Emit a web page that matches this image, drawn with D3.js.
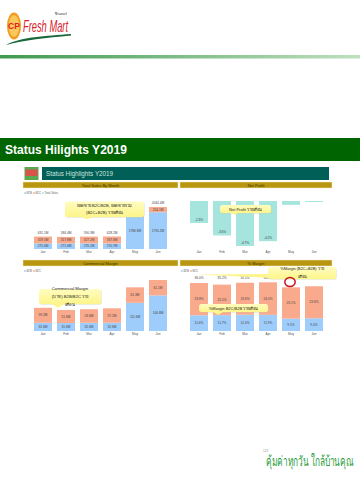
<!DOCTYPE html>
<html>
<head>
<meta charset="utf-8">
<style>
  html, body { margin: 0; padding: 0; background: #fff; }
  svg { display: block; }
  text { font-family: "Liberation Sans", "Noto Sans", "DejaVu Sans", sans-serif; }
</style>
<script src="https://cdn.jsdelivr.net/npm/d3@7"></script>
</head>
<body>
<div id="chart"></div>
<script>
// Values
const months = ["Jan", "Feb", "Mar", "Apr", "May", "Jun"];

const salesB2B = [275.6, 271.6, 276.1, 270.7, 1786.8, 1790.2];
const salesB2C = [329.5, 317.8, 327.2, 337.6, 250.1, 254.1];
const salesTotal = ["631.1M", "584.4M", "590.3M", "628.2M", "", "2044.4M"];

const netProfit = [-2.3, -3.6, -4.7, -4.2, -0.4, -0.1];
const netProfitLabels = ["-2.3%", "-3.6%", "-4.7%", "-4.2%", "", ""];

const marginB2B = [32.6, 31.6, 32.6, 32.6, 111.6, 140.8];
const marginB2C = [59.2, 51.6, 53.6, 57.2, 61.3, 61.1];

const pctB2B = [11.6, 11.7, 12.0, 11.9, 9.1, 9.4];
const pctB2C = [23.8, 22.5, 23.6, 24.0, 23.1, 23.6];
const pctTotal = ["36.0%", "35.2%", "35.5%", "36.4%", "32.5%", "11.8%"];

const blue = "#9fcdfb";
const orange = "#f9a98c";
const teal = "#a5e5dd";
const gold = "#b8960f";
const labelColor = "#444";

const svg = d3.select("#chart")
    .append("svg")
    .attr("width", 360)
    .attr("height", 480);

const defs = svg.append("defs");
const ruleGrad = defs.append("linearGradient").attr("id", "rule");
ruleGrad.append("stop").attr("offset", "0").attr("stop-color", "#3f9a4f");
ruleGrad.append("stop").attr("offset", "1").attr("stop-color", "#bfe0bf");
const noteGrad = defs.append("linearGradient").attr("id", "note")
    .attr("x1", 0).attr("x2", 0).attr("y1", 0).attr("y2", 1);
noteGrad.append("stop").attr("offset", "0").attr("stop-color", "#fffcc0");
noteGrad.append("stop").attr("offset", "1").attr("stop-color", "#fdf58a");

// Page header: logo, rule and the green banner
const logo = svg.append("g");
logo.append("ellipse").attr("cx", 14).attr("cy", 26).attr("rx", 7).attr("ry", 13.5).attr("fill", "#f39a1f");
logo.append("ellipse").attr("cx", 14).attr("cy", 26).attr("rx", 5.3).attr("ry", 11).attr("fill", "#f8c95a");
logo.append("text").attr("x", 14).attr("y", 29).attr("text-anchor", "middle")
    .attr("font-size", 8.5).attr("font-weight", "bold").attr("fill", "#d8232a").text("CP");
logo.append("text").attr("x", 23).attr("y", 32).attr("font-size", 17).attr("font-style", "italic")
    .attr("textLength", 45).attr("lengthAdjust", "spacingAndGlyphs")
    .attr("fill", "#d8232a").text("Fresh Mart");
logo.append("text").attr("x", 55).attr("y", 14.5).attr("font-size", 3.6).attr("fill", "#444").text("ฟินเดอร์");
logo.append("path").attr("d", "M6,45 C20,37 46,36 71,34 L71,35.5 C46,38 24,40 6,45 Z").attr("fill", "#17683a");

svg.append("rect").attr("x", 0).attr("y", 55).attr("width", 360).attr("height", 3.5).attr("fill", "url(#rule)");
svg.append("rect").attr("x", 0).attr("y", 138).attr("width", 360).attr("height", 23).attr("fill", "#006400");
svg.append("text").attr("x", 5).attr("y", 153.5).attr("font-size", 12).attr("font-weight", "bold")
    .attr("fill", "#fff").text("Status Hilights Y2019");

// Slide title strip
svg.append("rect").attr("x", 24.5).attr("y", 167).attr("width", 14).attr("height", 13).attr("fill", "#5aa84f");
svg.append("rect").attr("x", 25.5).attr("y", 169.5).attr("width", 12).attr("height", 6.5).attr("fill", "#d9534a");
svg.append("rect").attr("x", 42).attr("y", 167).attr("width", 287).attr("height", 13).attr("fill", "#005f56");
svg.append("text").attr("x", 46).attr("y", 176).attr("font-size", 6.3).attr("fill", "#cfe3df").text("Status Highlights Y2019");

function sectionBar(x, y, w, label) {
  svg.append("rect").attr("x", x).attr("y", y).attr("width", w).attr("height", 6)
      .attr("fill", gold).attr("stroke", "#f6efc0").attr("stroke-width", 0.5);
  svg.append("text").attr("x", x + w / 2).attr("y", y + 4.6).attr("text-anchor", "middle")
      .attr("font-size", 4).attr("fill", "#3a3200").text(label);
}
sectionBar(23, 182, 155, "Total Sales By Month");
sectionBar(180, 182, 152, "Net Profit");
sectionBar(23, 260, 155, "Commercial Margin");
sectionBar(180, 260, 152, "% Margin");

function legend(x, y, items) {
  let cx = x;
  items.forEach(item => {
    svg.append("circle").attr("cx", cx).attr("cy", y).attr("r", 0.9).attr("fill", item.color);
    svg.append("text").attr("x", cx + 1.5).attr("y", y + 1).attr("font-size", 2.8).attr("fill", "#666").text(item.label);
    cx += item.gap;
  });
}
legend(25, 193, [
  { label: "B2B", color: blue, gap: 9 },
  { label: "B2C", color: orange, gap: 9 },
  { label: "Total Sales", color: teal, gap: 16 }
]);
legend(25, 271, [
  { label: "B2B", color: blue, gap: 9 },
  { label: "B2C", color: orange, gap: 9 }
]);
legend(182, 271, [
  { label: "B2B", color: blue, gap: 9 },
  { label: "B2C", color: orange, gap: 9 }
]);

function monthAxis(x, y) {
  const axis = svg.append("g")
      .attr("transform", `translate(0,${y})`)
      .call(d3.axisBottom(x).tickSize(0).tickPadding(0));
  axis.select(".domain").remove();
  axis.selectAll("text").attr("font-size", 3.2).attr("fill", "#555").attr("font-family", null);
}

// Stacked bars with a value label in each segment and an optional one on top
function stackedPanel(x, y, lower, upper, fmt, totals, totalY) {
  const rows = months.map((m, i) => ({ month: m, lower: lower[i], upper: upper[i] }));
  const series = d3.stack().keys(["lower", "upper"])(rows);
  const fills = [blue, orange];

  series.forEach((s, k) => {
    const g = svg.append("g");
    g.selectAll("rect").data(s).enter().append("rect")
        .attr("x", d => x(d.data.month))
        .attr("y", d => y(d[1]))
        .attr("width", x.bandwidth())
        .attr("height", d => y(d[0]) - y(d[1]))
        .attr("fill", fills[k]);
    g.selectAll("text").data(s).enter().append("text")
        .attr("x", d => x(d.data.month) + x.bandwidth() / 2)
        .attr("y", d => (y(d[0]) + y(d[1])) / 2 + 1.1)
        .attr("text-anchor", "middle")
        .attr("font-size", 3.2)
        .attr("fill", labelColor)
        .text(d => fmt(d.data[s.key]));
  });

  if (totals) {
    svg.append("g").selectAll("text").data(totals).enter().append("text")
        .attr("x", (d, i) => x(months[i]) + x.bandwidth() / 2)
        .attr("y", (d, i) => totalY ? totalY : y(lower[i] + upper[i]) - 3)
        .attr("text-anchor", "middle")
        .attr("font-size", 3.2)
        .attr("fill", labelColor)
        .text(d => d);
  }
}

const bandP = 5 / 23;
const xLeft = d3.scaleBand().domain(months).range([31.5, 169.5]).paddingInner(bandP).paddingOuter(bandP / 2);
const xRight = d3.scaleBand().domain(months).range([187.5, 325.5]).paddingInner(bandP).paddingOuter(bandP / 2);

// Total sales by month
const ySales = d3.scaleLinear().domain([0, 2044.3]).range([249, 207]);
stackedPanel(xLeft, ySales, salesB2B, salesB2C, d => d3.format(".1f")(d) + "M", salesTotal);
monthAxis(xLeft, 250.5);

// Net profit
const yProfit = d3.scaleLinear().domain([0, -4.7]).range([201, 246]);
svg.append("g").selectAll("rect").data(netProfit).enter().append("rect")
    .attr("x", (d, i) => xRight(months[i]))
    .attr("y", yProfit(0))
    .attr("width", xRight.bandwidth())
    .attr("height", d => yProfit(d) - yProfit(0))
    .attr("fill", teal);
svg.append("g").selectAll("text").data(netProfitLabels).enter().append("text")
    .attr("x", (d, i) => xRight(months[i]) + xRight.bandwidth() / 2)
    .attr("y", (d, i) => yProfit(netProfit[i]) - 2)
    .attr("text-anchor", "middle")
    .attr("font-size", 3.2)
    .attr("fill", labelColor)
    .text(d => d);
monthAxis(xRight, 250.5);

// Commercial margin
const yMargin = d3.scaleLinear().domain([0, 201.9]).range([331, 280]);
stackedPanel(xLeft, yMargin, marginB2B, marginB2C, d => d3.format(".1f")(d) + "M");
monthAxis(xLeft, 332.5);

// % margin
const yPct = d3.scaleLinear().domain([0, 35.4]).range([331, 283]);
stackedPanel(xRight, yPct, pctB2B, pctB2C, d => d3.format(".1f")(d) + "%", pctTotal, 279);
monthAxis(xRight, 332.5);

// Yellow callouts sit over the charts
function callout(x, y, w, h, tail, lines, size) {
  const g = svg.append("g");
  g.append("rect").attr("x", x + 0.7).attr("y", y + 0.7).attr("width", w).attr("height", h).attr("rx", 2.5).attr("fill", "#cfcfa8").attr("opacity", 0.5);
  g.append("path").attr("d", tail).attr("fill", "#fdf58a");
  g.append("rect").attr("x", x).attr("y", y).attr("width", w).attr("height", h).attr("rx", 2.5).attr("fill", "url(#note)");
  lines.forEach(l => {
    g.append("text").attr("x", x + w / 2).attr("y", l.y).attr("text-anchor", "middle")
        .attr("font-size", size).attr("fill", "#222").text(l.text);
  });
}
callout(65, 201.5, 79, 15.5, "M82,217 L87,219.5 L92,217 Z", [
  { y: 206.5, text: "ยอดขาย B2C/B2B, ยอดขายรวม" },
  { y: 214, text: "(B2C+B2B) รายเดือน" }
], 4.1);
callout(220, 205, 51, 8, "M232,213 L235,215 L238,213 Z", [
  { y: 210.5, text: "Net Profit รายเดือน" }
], 4);
callout(39, 289, 62, 15, "M52,304 L58,308 L64,304 Z", [
  { y: 290, text: "Commercial Margin" },
  { y: 298, text: "(บาท) B2B/B2C ราย" },
  { y: 306, text: "เดือน" }
], 4.2);
callout(199, 304, 69, 8, "M213,312 L218,315 L223,312 Z", [
  { y: 309.5, text: "%Margin B2C/B2B รายเดือน" }
], 4);
callout(268, 267, 68, 12, "M295,279 L196,274.5 L270,274 Z", [
  { y: 270, text: "%Margin (B2C+B2B) ราย" },
  { y: 277.5, text: "เดือน" }
], 3.9);

svg.append("ellipse").attr("cx", 290).attr("cy", 282).attr("rx", 5.2).attr("ry", 4.6)
    .attr("fill", "none").attr("stroke", "#c8101a").attr("stroke-width", 1.5);

// Footer
svg.append("text").attr("x", 263).attr("y", 452).attr("font-size", 3.2).attr("fill", "#999").text("123");
svg.append("text").attr("transform", "translate(266,466) scale(0.59,1)").attr("font-size", 14)
    .attr("fill", "#1f9a3a").text("คุ้มค่าทุกวัน ใกล้บ้านคุณ");
</script>
</body>
</html>
